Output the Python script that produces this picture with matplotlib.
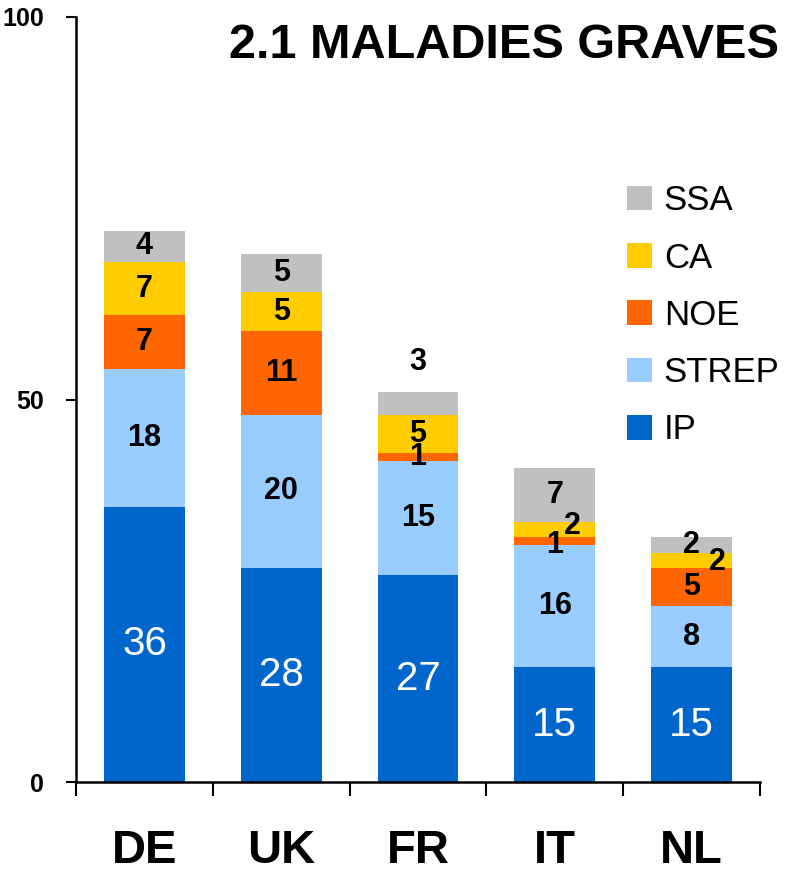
import matplotlib
matplotlib.use("Agg")
import matplotlib.pyplot as plt
from matplotlib.patches import Patch
import numpy as np

plt.rcParams['font.family'] = ['Liberation Sans', 'DejaVu Sans']

# data
countries = ['DE', 'UK', 'FR', 'IT', 'NL']
series = ['IP', 'STREP', 'NOE', 'CA', 'SSA']
ip = [36, 28, 27, 15, 15]
strep = [18, 20, 15, 16, 8]
noe = [7, 11, 1, 1, 5]
ca = [7, 5, 5, 2, 2]
ssa = [4, 5, 3, 7, 2]
colors = ['#0066CC', '#99CCFF', '#FF6600', '#FFCC00', '#C0C0C0']

values = [ip, strep, noe, ca, ssa]

# label nudges (x in category units, y in data units) for the crowded segments
nudge = {('FR', 'SSA'): (0, 5.4), ('IT', 'CA'): (0.13, 0.4),
         ('IT', 'NOE'): (0, -0.5), ('NL', 'CA'): (0.19, -0.2)}

fig = plt.figure(figsize=(8.06, 8.74), dpi=100)
ax = fig.add_axes([76 / 806, 92 / 874, 684 / 806, 765 / 874])

x = np.arange(len(countries))
bottom = np.zeros(len(countries))
for name, vals, col in zip(series, values, colors):
    ax.bar(x, vals, bottom=bottom, width=0.59, color=col, label=name)
    for i, v in enumerate(vals):
        dx, dy = nudge.get((countries[i], name), (0, 0))
        yc = bottom[i] + v / 2 + dy
        if name == 'IP':
            ax.text(x[i] + dx, yc, str(v), ha='center', va='center',
                    color='white', fontsize=29)
        else:
            ax.text(x[i] + dx, yc, str(v), ha='center', va='center',
                    color='black', fontsize=22, fontweight='bold')
    bottom += np.array(vals)

ax.set_xlim(-0.5, len(countries) - 0.5)
ax.set_ylim(0, 100)
ax.set_yticks([0, 50, 100])
ax.set_yticklabels(['0', '50', '100'], fontsize=18, fontweight='bold')
ax.tick_params(axis='y', direction='out', length=7, width=1.5, pad=16)

ax.set_xticks(x)
ax.set_xticklabels(countries, fontsize=34, fontweight='bold')
ax.tick_params(axis='x', length=0, pad=34)
ax.set_xticks(np.arange(-0.5, len(countries)), minor=True)
ax.tick_params(axis='x', which='minor', direction='out', length=10, width=1.5)

for s in ['top', 'right']:
    ax.spines[s].set_visible(False)
ax.spines['left'].set_linewidth(1.8)
ax.spines['bottom'].set_linewidth(1.8)

handles = [Patch(facecolor=c, label=n) for n, c in zip(series, colors)][::-1]
ax.legend(handles=handles, loc='center left', bbox_to_anchor=(0.805, 0.61),
          frameon=False, fontsize=25, handlelength=0.72, handleheight=0.72,
          handletextpad=0.35, labelspacing=0.7, borderpad=0, borderaxespad=0)

fig.text(0.625, 1 - 45 / 874, '2.1 MALADIES GRAVES', ha='center', va='center',
         fontsize=35, fontweight='bold')

plt.savefig('out.png', dpi=100)
